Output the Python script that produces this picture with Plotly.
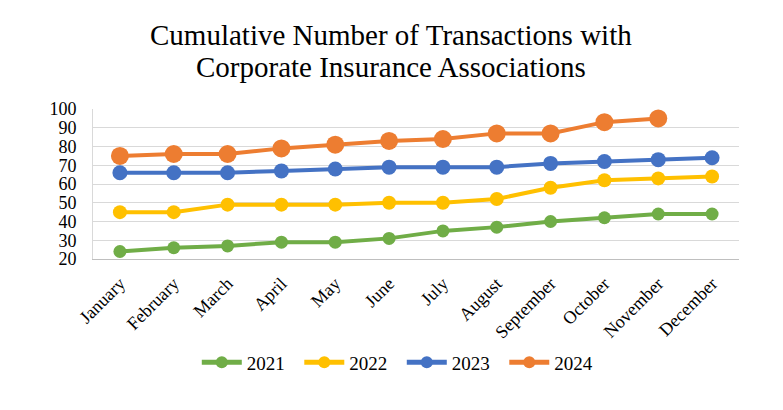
import plotly.graph_objects as go

months = ["January", "February", "March", "April", "May", "June", "July",
          "August", "September", "October", "November", "December"]
y2021 = [24, 26, 27, 29, 29, 31, 35, 37, 40, 42, 44, 44]
y2022 = [45, 45, 49, 49, 49, 50, 50, 52, 58, 62, 63, 64]
y2023 = [66, 66, 66, 67, 68, 69, 69, 69, 71, 72, 73, 74]
y2024 = [75, 76, 76, 79, 81, 83, 84, 87, 87, 93, 95]
title_lines = ["Cumulative Number of Transactions with", "Corporate Insurance Associations"]

series = [
    ("2021", y2021, "#70AD47", 13),
    ("2022", y2022, "#FFC000", 14),
    ("2023", y2023, "#4472C4", 15),
    ("2024", y2024, "#ED7D31", 18),
]

fig = go.Figure()
for name, vals, color, msize in series:
    fig.add_trace(go.Scatter(
        x=months[:len(vals)], y=vals, name=name + "  ", mode="lines+markers",
        line=dict(color=color, width=4),
        marker=dict(color=color, size=msize),
    ))

serif = "Times New Roman, Liberation Serif, DejaVu Serif, serif"
for i, (txt, ypos) in enumerate(zip(title_lines, [1.493, 1.28])):
    fig.add_annotation(text=txt, xref="paper", yref="paper", x=0.462, y=ypos,
                       xanchor="center", yanchor="middle", showarrow=False,
                       font=dict(family=serif, size=29, color="black"))

fig.update_layout(
    width=783, height=410,
    paper_bgcolor="white", plot_bgcolor="white",
    margin=dict(l=93, r=44, t=109, b=151),
    font=dict(family=serif, color="black", size=16),
    xaxis=dict(type="category", tickangle=-45, showgrid=False,
               showline=True, linecolor="#bfbfbf", linewidth=1,
               ticks="", tickfont=dict(family=serif, size=18, color="black"),
               ticklabelstandoff=6, range=[-0.5, 11.5]),
    yaxis=dict(range=[20, 100], dtick=10, showgrid=True, gridcolor="#d9d9d9",
               gridwidth=1, zeroline=False, showline=True, linecolor="#d9d9d9",
               linewidth=1, ticks="", ticklabelstandoff=12,
               tickfont=dict(family=serif, size=18, color="black")),
    legend=dict(orientation="h", x=0.478, xanchor="center", y=-0.69, yanchor="middle",
                font=dict(family=serif, size=19, color="black"),
                itemsizing="constant", itemwidth=40),
    showlegend=True,
)

fig.write_html("out.html")
